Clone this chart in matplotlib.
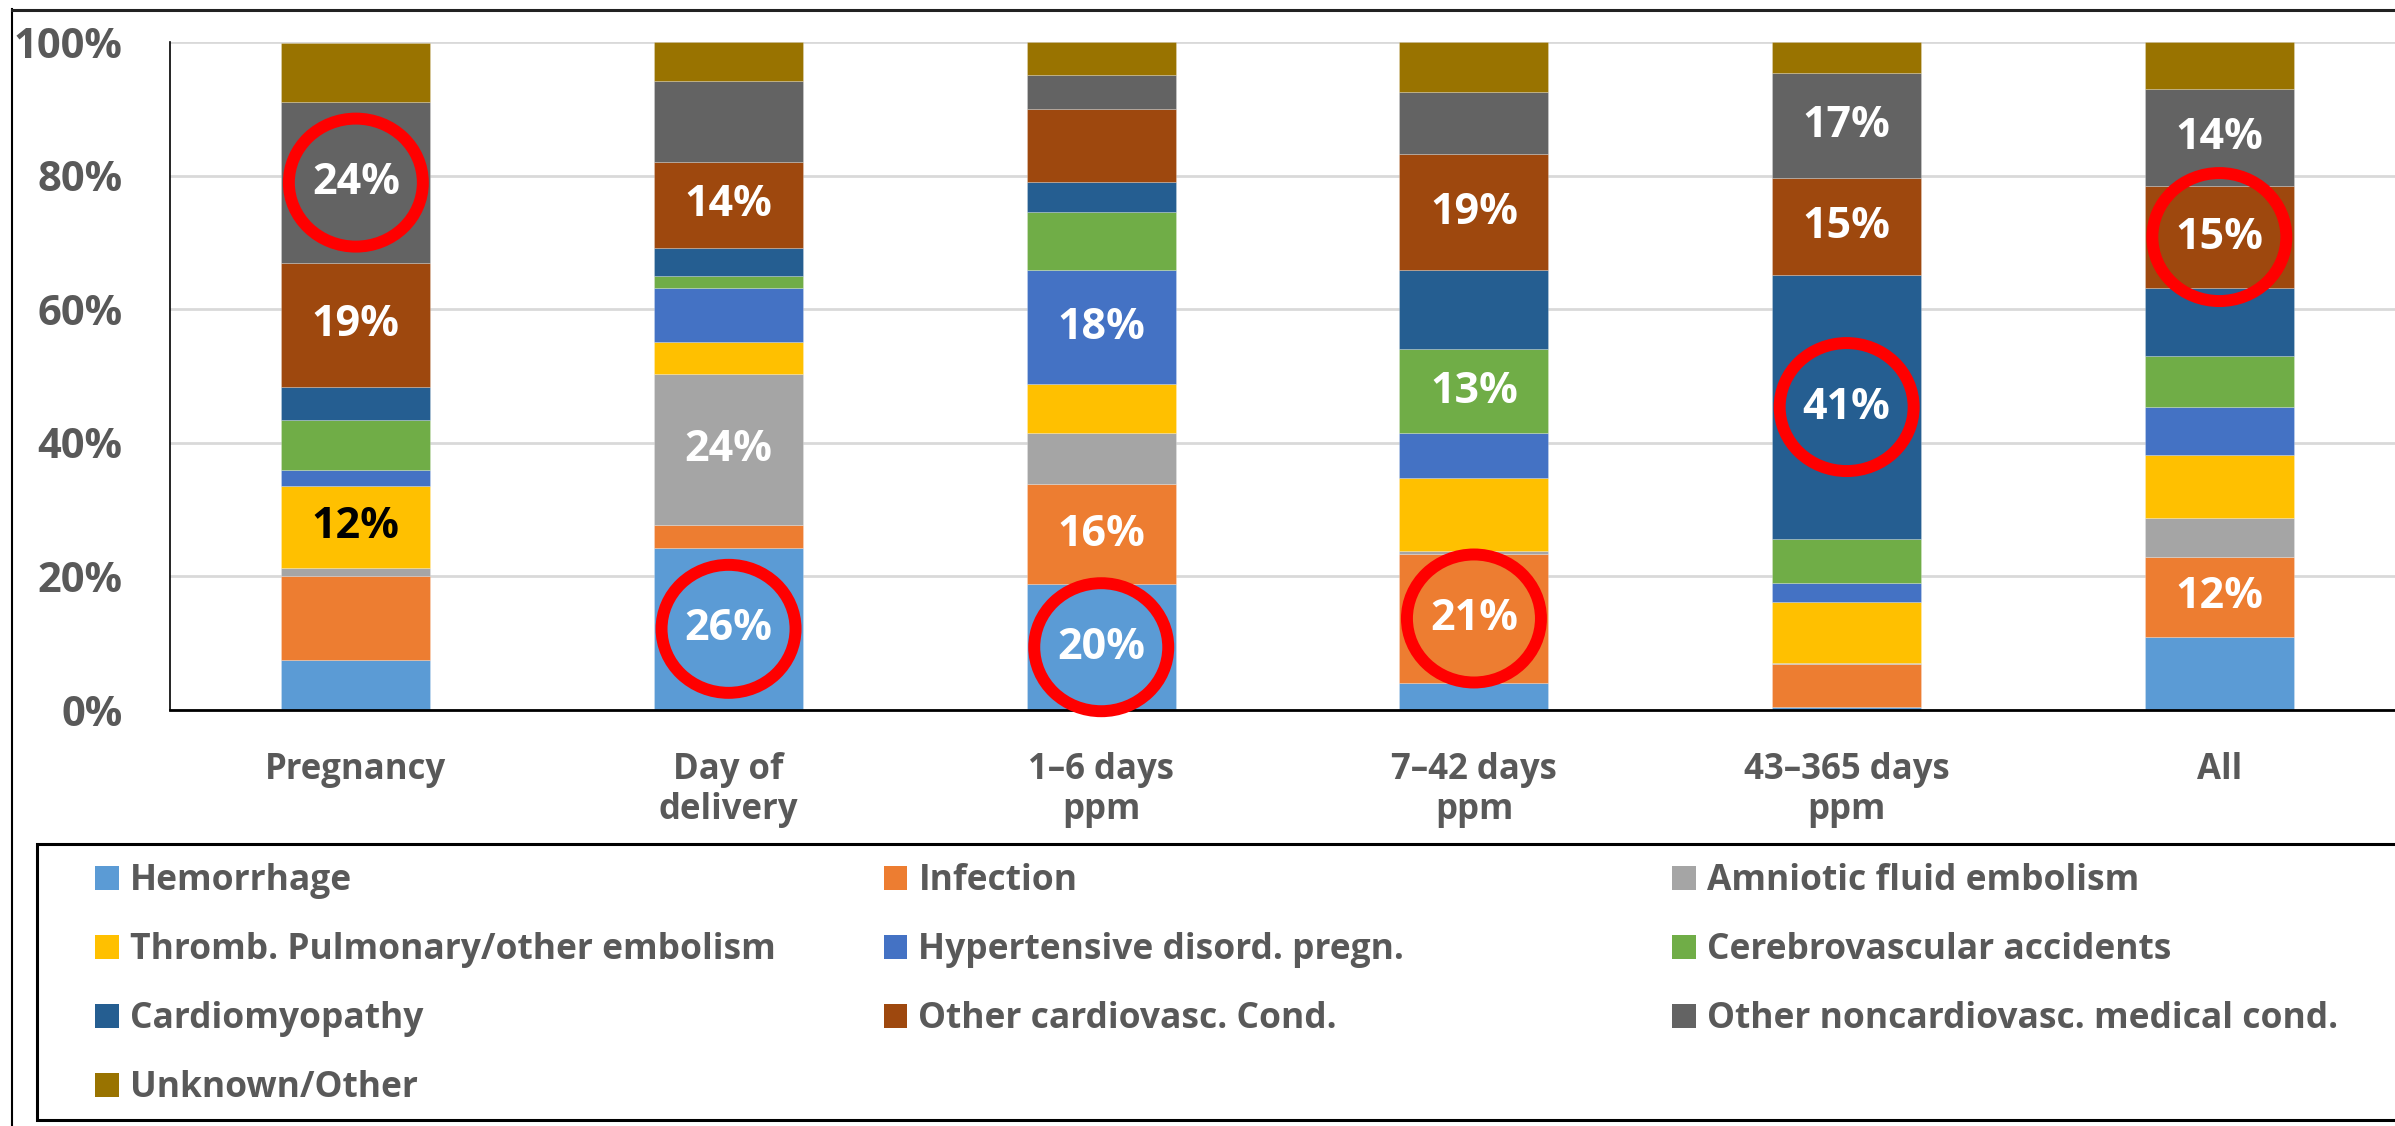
import matplotlib
matplotlib.use("Agg")
import matplotlib.pyplot as plt
import numpy as np
from matplotlib.patches import Ellipse, Rectangle
from matplotlib.lines import Line2D
from matplotlib.transforms import ScaledTranslation

plt.rcParams['font.family'] = ['Open Sans', 'DejaVu Sans']
plt.rcParams['font.weight'] = 'bold'

# ---------------- data ----------------
categories = ["Pregnancy", "Day of\ndelivery", "1\u20136 days\nppm", "7\u201342 days\nppm",
              "43\u2013365 days\nppm", "All"]

series_names = ["Hemorrhage", "Infection", "Amniotic fluid embolism",
                "Thromb. Pulmonary/other embolism", "Hypertensive disord. pregn.",
                "Cerebrovascular accidents", "Cardiomyopathy", "Other cardiovasc. Cond.",
                "Other noncardiovasc. medical cond.", "Unknown/Other"]
series_colors = ["#5B9BD5", "#ED7D31", "#A5A5A5", "#FFC000", "#4472C4",
                 "#70AD47", "#255E91", "#9E480E", "#636363", "#997300"]

hemorrhage      = [7.5, 24.3, 18.8, 4.1, 0.5, 11.0]
infection       = [12.5, 3.4, 15.0, 19.2, 6.4, 11.9]
amniotic        = [1.2, 22.6, 7.6, 0.5, 0.2, 5.9]
thromb          = [12.4, 4.8, 7.4, 10.9, 9.0, 9.4]
hypertensive    = [2.3, 8.1, 17.0, 6.8, 2.9, 7.1]
cerebrovascular = [7.5, 1.8, 8.8, 12.5, 6.6, 7.7]
cardiomyopathy  = [5.0, 4.2, 4.4, 11.8, 39.5, 10.1]
other_cardio    = [18.5, 12.8, 11.0, 17.4, 14.6, 15.4]
other_noncardio = [24.1, 12.1, 5.0, 9.3, 15.6, 14.4]
unknown_other   = [8.9, 5.9, 5.0, 7.5, 4.7, 7.1]

series_values = [hemorrhage, infection, amniotic, thromb, hypertensive,
                 cerebrovascular, cardiomyopathy, other_cardio, other_noncardio, unknown_other]

# data labels: (category index, series index, text)
label_cat    = [0, 0, 0, 1, 1, 1, 2, 2, 2, 3, 3, 3, 4, 4, 4, 5, 5, 5]
label_series = [8, 7, 3, 7, 2, 0, 4, 1, 0, 7, 5, 1, 8, 7, 6, 8, 7, 1]
label_text   = ["24%", "19%", "12%", "14%", "24%", "26%", "18%", "16%", "20%",
                "19%", "13%", "21%", "17%", "15%", "41%", "14%", "15%", "12%"]
dark_label_series = [3]  # yellow segments get black text

# highlighted (circled) segments
circle_cat    = [0, 1, 2, 3, 4, 5]
circle_series = [8, 0, 0, 1, 6, 7]

yticks = [0, 20, 40, 60, 80, 100]

# ---------------- figure ----------------
W, H = 2395, 1126
fig = plt.figure(figsize=(W / 100, H / 100), dpi=100)

def fx(px):
    return px / W

def fy(py):
    return 1 - py / H

ax_left, ax_right, ax_top, ax_bot = 169.5, 169.5 + 6 * 372.7, 42, 710
ax = fig.add_axes([fx(ax_left), fy(ax_bot), (ax_right - ax_left) / W, (ax_bot - ax_top) / H])

x = np.arange(len(categories))
bottom = np.zeros(len(categories))
bottoms = []
for vals, col, name in zip(series_values, series_colors, series_names):
    vals = np.array(vals, dtype=float)
    bottoms.append(bottom.copy())
    ax.bar(x, vals, bottom=bottom, width=0.4, color=col, label=name, zorder=2,
           edgecolor='#FFFFFF40', linewidth=0.6)
    bottom = bottom + vals

ax.set_xlim(-0.5, len(categories) - 0.5)
ax.set_ylim(0, 100)
ax.set_yticks(yticks)
ax.set_yticklabels([f"{v}%" for v in yticks])
ax.set_xticks(x)
ax.set_xticklabels(categories, linespacing=1.15)
ax.tick_params(axis='y', length=0, pad=34, labelsize=30, labelcolor='#595959')
ax.tick_params(axis='x', length=0, pad=30, labelsize=25, labelcolor='#595959')
ax.yaxis.grid(True, color='#D9D9D9', linewidth=2, zorder=0)
ax.set_axisbelow(True)
for s in ['top', 'right']:
    ax.spines[s].set_visible(False)
ax.spines['left'].set_color('black')
ax.spines['left'].set_linewidth(1.2)
ax.spines['bottom'].set_color('black')
ax.spines['bottom'].set_linewidth(2)

# data labels
for c, s, t in zip(label_cat, label_series, label_text):
    yc = bottoms[s][c] + series_values[s][c] / 2
    color = 'black' if s in dark_label_series else 'white'
    ax.text(x[c], yc, t, ha='center', va='center', fontsize=31, fontweight='bold',
            color=color, zorder=5)

# red circles
for c, s in zip(circle_cat, circle_series):
    yc = bottoms[s][c] + series_values[s][c] / 2
    tr = fig.dpi_scale_trans + ScaledTranslation(x[c], yc, ax.transData)
    e = Ellipse((0, 0), 1.34, 1.28, transform=tr, facecolor='none', edgecolor='#FF0000',
                linewidth=8.6, zorder=6, clip_on=False)
    ax.add_artist(e)

# outer frame lines
fig.add_artist(Line2D([fx(12), fx(12)], [fy(9), fy(H + 5)], color='black', linewidth=1.5))
fig.add_artist(Line2D([fx(12), fx(W + 5)], [fy(9.5), fy(9.5)], color='#222222', linewidth=2.2))

# legend box
leg_left, leg_top, leg_bot = 37, 844, 1120
fig.add_artist(Rectangle((fx(leg_left), fy(leg_bot)), fx(W + 20 - leg_left), (leg_bot - leg_top) / H,
                         transform=fig.transFigure, facecolor='white', edgecolor='black',
                         linewidth=2.2))

order = list(range(len(series_names)))
col_text_x = [130, 918.5, 1707]
row_base_y = [890, 959, 1028, 1097]
for k in order:
    r, cidx = divmod(k, 3)
    tx = col_text_x[cidx]
    by = row_base_y[r]
    fig.add_artist(Rectangle((fx(tx - 35), fy(by)), 24 / W, 24 / H, transform=fig.transFigure,
                             facecolor=series_colors[k], edgecolor='none'))
    fig.text(fx(tx), fy(by), series_names[k], ha='left', va='baseline', fontsize=25.5,
             fontweight='bold', color='#595959')

fig.savefig("out.png", dpi=100)
